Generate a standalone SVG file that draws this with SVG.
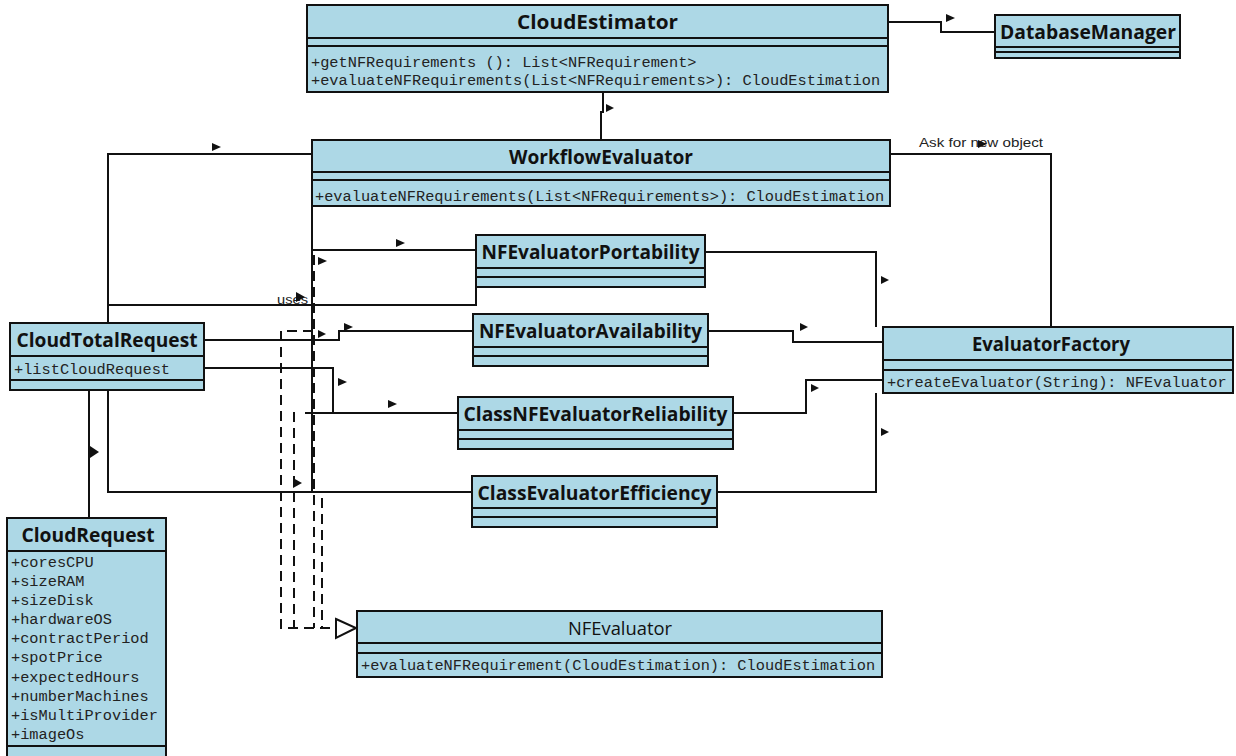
<svg xmlns="http://www.w3.org/2000/svg" width="1236" height="756" viewBox="0 0 1236 756">
<style>
.box{fill:#add8e6;stroke:#111;stroke-width:2}
.div{stroke:#111;stroke-width:2}
.t{font-family:"Open Sans","Noto Sans",sans-serif;font-weight:bold;font-size:19px;fill:#111;text-anchor:middle}
.tr{font-family:"Open Sans","Noto Sans",sans-serif;font-size:19px;fill:#111;text-anchor:middle}
.m{font-family:"Liberation Mono","Courier New",monospace;font-size:15.3px;fill:#222}
.c{fill:none;stroke:#111;stroke-width:2}
.d{fill:none;stroke:#111;stroke-width:2;stroke-dasharray:10 6}
.a{fill:#111}
.lbl{font-family:"Liberation Sans",Arial,sans-serif;font-size:13px;fill:#222}
</style>
<rect width="1236" height="756" fill="#fff"/>
<g id="connectors">
<path class="c" d="M888,22 H941 V32 H995"/>
<polygon class="a" points="946,14 955,18 946,22"/>
<path class="c" d="M603,92 V112 H601 V140"/>
<polygon class="a" points="606,104 614,108 606,112"/>
<path class="c" d="M312,154 H108 V323"/>
<polygon class="a" points="212,143 221,147 212,151"/>
<path class="c" d="M890,154 H1051 V327"/>
<text class="lbl" x="919" y="147" textLength="124" lengthAdjust="spacingAndGlyphs">Ask for new object</text>
<polygon class="a" points="978,140 987,144 978,148"/>
<path class="c" d="M312,206 V492"/>
<path class="c" d="M312,250 H476"/>
<polygon class="a" points="396,239 405,243 396,247"/>
<path class="c" d="M108,305 H476 V287"/>
<text class="lbl" x="277" y="304" textLength="31" lengthAdjust="spacingAndGlyphs">uses</text>
<polygon class="a" points="296,292 305,297 296,302"/>
<path class="c" d="M204,340 H339 V331 H473"/>
<polygon class="a" points="344,323 353,327 344,331"/>
<polygon class="a" points="318,330 326,334 318,338"/>
<polygon class="a" points="318,257 327,261 318,265"/>
<path class="c" d="M204,368 H333 V413 H458"/>
<path class="c" d="M305,413 H333"/>
<polygon class="a" points="338,378 347,382 338,386"/>
<polygon class="a" points="388,400 397,404 388,408"/>
<path class="c" d="M108,390 V492 H472"/>
<path class="c" d="M89,390 V518"/>
<polygon class="a" points="90,446 99,452 90,458"/>
<polygon class="a" points="293,478 302,483 293,488"/>
<path class="c" d="M705,252 H876 V327"/>
<polygon class="a" points="881,276 889,280 881,284"/>
<path class="c" d="M708,331 H793 V342 H883"/>
<polygon class="a" points="800,323 808,327 800,331"/>
<path class="c" d="M733,413 H806 V380 H883"/>
<polygon class="a" points="811,384 819,388 811,392"/>
<path class="c" d="M717,492 H876 V393"/>
<polygon class="a" points="881,428 889,432 881,436"/>
<path class="d" d="M313,331 H281 V628 H336"/>
<path class="d" d="M294,412 V628"/>
<path class="d" d="M314,255 V628"/>
<path class="d" d="M322,498 V628"/>
<polygon points="336,619 356,628 336,638" fill="#fff" stroke="#111" stroke-width="2"/>
</g>
<g id="CloudEstimator">
<rect class="box" x="307" y="5" width="581" height="87"/>
<line class="div" x1="307" y1="38" x2="888" y2="38"/>
<line class="div" x1="307" y1="46" x2="888" y2="46"/>
<text class="t" x="597.5" y="29" textLength="161" lengthAdjust="spacingAndGlyphs">CloudEstimator</text>
<text class="m" x="311" y="67">+getNFRequirements (): List&lt;NFRequirement&gt;</text>
<text class="m" x="311" y="85">+evaluateNFRequirements(List&lt;NFRequirements&gt;): CloudEstimation</text>
</g>
<g id="DatabaseManager">
<rect class="box" x="995" y="15" width="185" height="43"/>
<line class="div" x1="995" y1="47" x2="1180" y2="47"/>
<line class="div" x1="995" y1="52" x2="1180" y2="52"/>
<text class="t" x="1088" y="39" textLength="176" lengthAdjust="spacingAndGlyphs">DatabaseManager</text>
</g>
<g id="WorkflowEvaluator">
<rect class="box" x="312" y="140" width="578" height="66"/>
<line class="div" x1="312" y1="172" x2="890" y2="172"/>
<line class="div" x1="312" y1="180" x2="890" y2="180"/>
<text class="t" x="601" y="164" textLength="184" lengthAdjust="spacingAndGlyphs">WorkflowEvaluator</text>
<text class="m" x="315" y="201">+evaluateNFRequirements(List&lt;NFRequirements&gt;): CloudEstimation</text>
</g>
<g id="NFEvaluatorPortability">
<rect class="box" x="476" y="235" width="229" height="52"/>
<line class="div" x1="476" y1="268" x2="705" y2="268"/>
<line class="div" x1="476" y1="277" x2="705" y2="277"/>
<text class="t" x="590.5" y="259" textLength="218" lengthAdjust="spacingAndGlyphs">NFEvaluatorPortability</text>
</g>
<g id="NFEvaluatorAvailability">
<rect class="box" x="473" y="314" width="235" height="52"/>
<line class="div" x1="473" y1="347" x2="708" y2="347"/>
<line class="div" x1="473" y1="356" x2="708" y2="356"/>
<text class="t" x="590.5" y="338" textLength="223" lengthAdjust="spacingAndGlyphs">NFEvaluatorAvailability</text>
</g>
<g id="ClassNFEvaluatorReliability">
<rect class="box" x="458" y="397" width="275" height="52"/>
<line class="div" x1="458" y1="430" x2="733" y2="430"/>
<line class="div" x1="458" y1="439" x2="733" y2="439"/>
<text class="t" x="595.5" y="421" textLength="264" lengthAdjust="spacingAndGlyphs">ClassNFEvaluatorReliability</text>
</g>
<g id="ClassEvaluatorEfficiency">
<rect class="box" x="472" y="476" width="245" height="51"/>
<line class="div" x1="472" y1="508" x2="717" y2="508"/>
<line class="div" x1="472" y1="517" x2="717" y2="517"/>
<text class="t" x="594.5" y="500" textLength="234" lengthAdjust="spacingAndGlyphs">ClassEvaluatorEfficiency</text>
</g>
<g id="EvaluatorFactory">
<rect class="box" x="883" y="327" width="350" height="66"/>
<line class="div" x1="883" y1="360" x2="1233" y2="360"/>
<line class="div" x1="883" y1="370" x2="1233" y2="370"/>
<text class="t" x="1051" y="351" textLength="158" lengthAdjust="spacingAndGlyphs">EvaluatorFactory</text>
<text class="m" x="887" y="387">+createEvaluator(String): NFEvaluator</text>
</g>
<g id="CloudTotalRequest">
<rect class="box" x="10" y="323" width="194" height="67"/>
<line class="div" x1="10" y1="356" x2="204" y2="356"/>
<line class="div" x1="10" y1="380" x2="204" y2="380"/>
<text class="t" x="107" y="347" textLength="181" lengthAdjust="spacingAndGlyphs">CloudTotalRequest</text>
<text class="m" x="14" y="374">+listCloudRequest</text>
</g>
<g id="CloudRequest">
<rect class="box" x="7" y="518" width="159" height="245"/>
<line class="div" x1="7" y1="551" x2="166" y2="551"/>
<line class="div" x1="7" y1="746" x2="166" y2="746"/>
<text class="t" x="88" y="542" textLength="133" lengthAdjust="spacingAndGlyphs">CloudRequest</text>
<text class="m" x="11" y="567">+coresCPU</text>
<text class="m" x="11" y="586">+sizeRAM</text>
<text class="m" x="11" y="605">+sizeDisk</text>
<text class="m" x="11" y="624">+hardwareOS</text>
<text class="m" x="11" y="643">+contractPeriod</text>
<text class="m" x="11" y="662">+spotPrice</text>
<text class="m" x="11" y="682">+expectedHours</text>
<text class="m" x="11" y="701">+numberMachines</text>
<text class="m" x="11" y="720">+isMultiProvider</text>
<text class="m" x="11" y="739">+imageOs</text>
</g>
<g id="NFEvaluator">
<rect class="box" x="357" y="611" width="525" height="66"/>
<line class="div" x1="357" y1="643" x2="882" y2="643"/>
<line class="div" x1="357" y1="653" x2="882" y2="653"/>
<text class="tr" x="620" y="635" textLength="104" lengthAdjust="spacingAndGlyphs">NFEvaluator</text>
<text class="m" x="361" y="670">+evaluateNFRequirement(CloudEstimation): CloudEstimation</text>
</g>
</svg>
